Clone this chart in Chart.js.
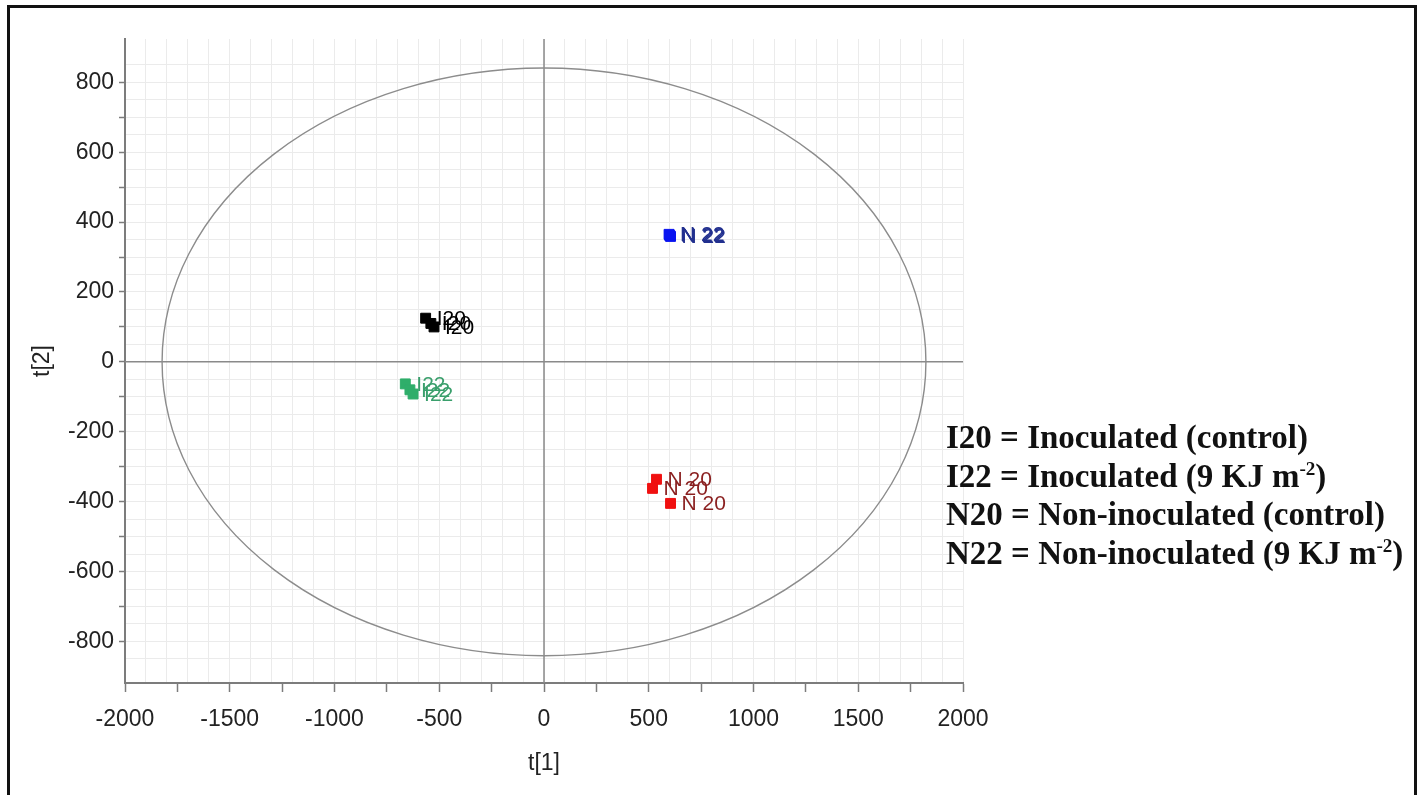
<!DOCTYPE html>
<html>
<head>
<meta charset="utf-8">
<title>Score scatter plot t[1] vs t[2]</title>
<script src="https://cdn.jsdelivr.net/npm/chart.js@4.4.0/dist/chart.umd.min.js"></script>
<style>
  html, body { margin: 0; padding: 0; background: #fff; overflow: hidden; }
  #wrap { position: relative; width: 1419px; height: 795px; overflow: hidden; }
  #c { position: absolute; left: 0; top: 0; }
  #frame { position: absolute; left: 7px; top: 5px; width: 1410px; height: 900px;
           border: 3px solid #111; box-sizing: border-box; pointer-events: none; }
  #key { position: absolute; left: 946px; top: 418px; font-family: "Liberation Serif", "Times New Roman", serif;
         font-weight: bold; font-size: 33px; line-height: 38.7px; color: #111; white-space: nowrap; }
  #key sup { font-size: 58%; vertical-align: baseline; position: relative; top: -0.62em; line-height: 0; }
</style>
</head>
<body>
<div id="wrap">
  <canvas id="c" width="1419" height="795"></canvas>
  <div id="frame"></div>
  <div id="key">
    <div>I20 = Inoculated (control)</div>
    <div>I22 = Inoculated (9 KJ m<sup>-2</sup>)</div>
    <div>N20 = Non-inoculated (control)</div>
    <div>N22 = Non-inoculated (9 KJ m<sup>-2</sup>)</div>
  </div>
</div>
<script>
// Group names and the text written next to each score point
const groups = ['I20', 'I22', 'N20', 'N22'];
const pointText = ['I20', 'I22', 'N 20', 'N 22'];

// Scores per group: t[1] and t[2]
const i20T1 = [-565, -540, -525];
const i20T2 = [125, 110, 100];
const i22T1 = [-662, -640, -625];
const i22T2 = [-63, -80, -92];
const n20T1 = [537, 518, 604];
const n20T2 = [-336, -362, -405];
const n22T1 = [600, 604, 597];
const n22T2 = [362, 359, 365];

// Labelled tick values
const xTickLabels = [-2000, -1500, -1000, -500, 0, 500, 1000, 1500, 2000];
const yTickLabels = [-800, -600, -400, -200, 0, 200, 400, 600, 800];

// Hotelling T2 ellipse semi-axes (score units)
const ellipseT1 = 1823;
const ellipseT2 = 841;

const markerColors = ['#000000', '#2fae6a', '#f01010', '#0a14f0'];
const textColors = ['#000000', '#3a9f6c', '#8a1f1f', '#22308f'];

function toPoints(xs, ys) { return xs.map((v, i) => ({ x: v, y: ys[i] })); }
const series = [toPoints(i20T1, i20T2), toPoints(i22T1, i22T2), toPoints(n20T1, n20T2), toPoints(n22T1, n22T2)];

const clear = 'rgba(0,0,0,0)';
const tickFont = { family: 'Liberation Sans, Arial, sans-serif', size: 23 };

// Crosshair at the origin and the confidence ellipse, under the markers
const ellipsePlugin = {
  id: 'ellipse',
  beforeDatasetsDraw(chart) {
    const { ctx, chartArea: a, scales: { x, y } } = chart;
    const cx = x.getPixelForValue(0), cy = y.getPixelForValue(0);
    ctx.save();
    ctx.strokeStyle = '#8a8a8a';
    ctx.lineWidth = 1.5;
    ctx.beginPath();
    ctx.moveTo(a.left, cy); ctx.lineTo(a.right, cy);
    ctx.moveTo(cx, a.top); ctx.lineTo(cx, a.bottom);
    ctx.stroke();
    const rx = x.getPixelForValue(ellipseT1) - cx;
    const ry = cy - y.getPixelForValue(ellipseT2);
    ctx.strokeStyle = '#8c8c8c';
    ctx.lineWidth = 1.4;
    ctx.beginPath();
    ctx.ellipse(cx, cy, rx, ry, 0, 0, Math.PI * 2);
    ctx.stroke();
    ctx.restore();
  }
};

// Group name written to the right of every point
const pointTextPlugin = {
  id: 'pointText',
  afterDatasetsDraw(chart) {
    const { ctx } = chart;
    ctx.save();
    ctx.font = '21px "Liberation Sans", Arial, sans-serif';
    ctx.textBaseline = 'middle';
    ctx.textAlign = 'left';
    chart.data.datasets.forEach((ds, di) => {
      const meta = chart.getDatasetMeta(di);
      ctx.fillStyle = textColors[di];
      meta.data.forEach(pt => ctx.fillText(pointText[di], pt.x + 11, pt.y + 1));
    });
    ctx.restore();
  }
};

new Chart(document.getElementById('c'), {
  type: 'scatter',
  data: {
    datasets: series.map((pts, i) => ({
      label: groups[i],
      data: pts,
      pointStyle: 'rect',
      pointRadius: 7,
      pointBackgroundColor: markerColors[i],
      pointBorderColor: markerColors[i],
      pointBorderWidth: 1
    }))
  },
  options: {
    responsive: false,
    animation: false,
    events: [],
    layout: { padding: { left: 10, right: 456, top: 39, bottom: 0 } },
    plugins: { legend: { display: false }, tooltip: { enabled: false } },
    scales: {
      x: {
        type: 'linear',
        min: -2000,
        max: 2000,
        afterFit: s => { s.height = 112; },
        border: { display: true, color: '#7c7c7c', width: 2 },
        grid: {
          color: c => (c.tick && c.tick.value % 100 === 0) ? '#ebebeb' : clear,
          lineWidth: 1,
          drawTicks: true,
          tickLength: 9,
          tickWidth: 1.5,
          tickColor: c => (c.tick && c.tick.value % 250 === 0) ? '#7c7c7c' : clear
        },
        ticks: {
          stepSize: 50,
          autoSkip: false,
          maxRotation: 0,
          padding: 14,
          color: '#222',
          font: tickFont,
          callback: v => xTickLabels.includes(v) ? String(v) : ''
        },
        title: { display: true, text: 't[1]', color: '#222', font: tickFont, padding: { top: 0, bottom: 18 } }
      },
      y: {
        type: 'linear',
        min: -919,
        max: 924,
        afterFit: s => { s.width = 115; },
        border: { display: true, color: '#7c7c7c', width: 2 },
        grid: {
          color: c => (c.tick && c.tick.value % 50 === 0) ? '#ebebeb' : clear,
          lineWidth: 1,
          drawTicks: true,
          tickLength: 6,
          tickWidth: 1.5,
          tickColor: c => (c.tick && c.tick.value % 100 === 0) ? '#7c7c7c' : clear
        },
        ticks: {
          stepSize: 50,
          autoSkip: false,
          padding: 5,
          color: '#222',
          font: tickFont,
          callback: v => yTickLabels.includes(v) ? String(v) : ''
        },
        title: { display: true, text: 't[2]', color: '#222', font: tickFont, padding: { top: 19, bottom: 0 } }
      }
    }
  },
  plugins: [ellipsePlugin, pointTextPlugin]
});
</script>
</body>
</html>
